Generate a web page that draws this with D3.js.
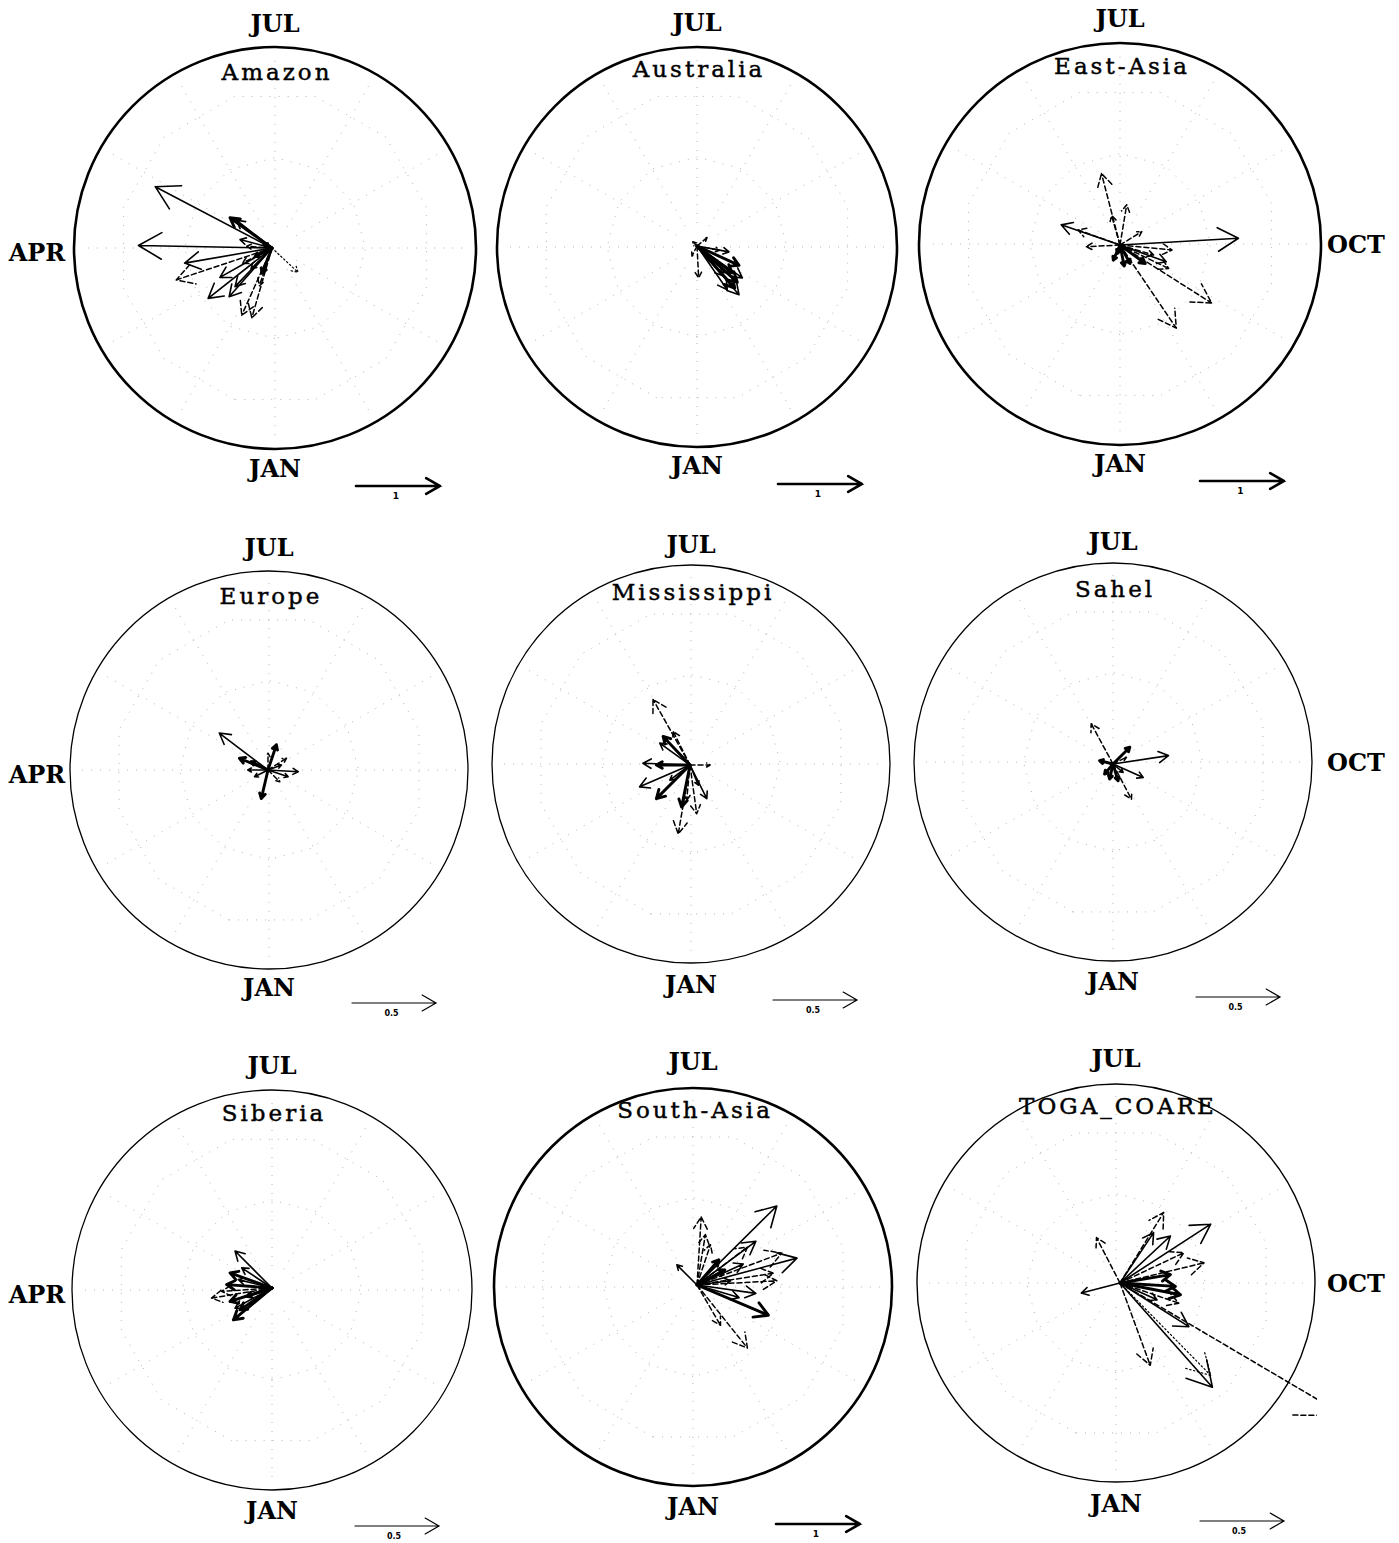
<!DOCTYPE html>
<html><head><meta charset="utf-8">
<script src="https://cdn.jsdelivr.net/npm/d3@7"></script>
<style>body{margin:0;background:#fff}</style>
</head><body>
<svg id="c" width="1399" height="1543"></svg>
<script>
// ---------------- data ----------------
const regions = ["Amazon","Australia","East-Asia","Europe","Mississippi","Sahel","Siberia","South-Asia","TOGA_COARE"];
const refValues = [1,1,1,0.5,0.5,0.5,0.5,1,0.5];
const refLabels = ["1","1","1","0.5","0.5","0.5","0.5","1","0.5"];
const monthLabels = {top:"JUL", bottom:"JAN", left:"APR", right:"OCT"};
// vectors: [u, v, style]  s=solid b=bold d=dashed o=dotted
const amazonVec = [[-1.39,0.73,'s'],[-1.59,0.03,'s'],[-1.04,-0.18,'s'],[-1.14,-0.38,'d'],[-0.76,-0.60,'s'],[-0.51,-0.58,'s'],[-0.36,-0.80,'d'],[-0.24,-0.83,'d'],[-0.50,0.36,'b'],[-0.42,0.33,'s'],[-0.38,0.10,'s'],[0.31,-0.29,'o'],[-0.62,-0.35,'s'],[-0.44,-0.46,'s'],[-0.35,-0.18,'d'],[-0.20,-0.10,'b'],[-0.12,-0.30,'b'],[-0.25,-0.25,'s'],[-0.10,0.05,'b'],[-0.30,0.02,'d'],[-0.15,-0.45,'d']];
const australiaVec = [[0.50,-0.58,'s'],[0.48,-0.43,'b'],[0.54,-0.38,'s'],[0.50,-0.23,'b'],[0.38,-0.07,'s'],[0.27,-0.05,'d'],[0.36,-0.52,'s'],[0.02,-0.38,'d'],[0.12,0.10,'d'],[-0.06,-0.12,'d'],[0.42,-0.32,'b'],[0.30,-0.35,'s'],[0.45,-0.50,'b'],[0.20,-0.20,'s'],[-0.05,0.05,'d']];
const eastAsiaVec = [[1.41,0.08,'s'],[1.09,-0.69,'d'],[0.67,-0.99,'d'],[-0.22,0.85,'d'],[0.08,0.48,'d'],[-0.10,0.35,'d'],[-0.70,0.24,'s'],[-0.40,-0.02,'d'],[0.26,0.16,'d'],[-0.50,0.18,'d'],[0.62,-0.06,'d'],[0.58,-0.28,'d'],[0.55,-0.20,'s'],[0.30,-0.22,'b'],[0.05,-0.25,'b'],[-0.08,-0.18,'b'],[0.12,-0.22,'b'],[-0.03,-0.10,'b'],[0.40,-0.12,'d']];
const europeVec = [[-0.29,0.22,'s'],[-0.04,-0.17,'b'],[0.18,-0.01,'s'],[0.05,0.15,'b'],[-0.17,0.07,'b'],[-0.08,-0.04,'s'],[0.11,0.07,'d'],[0.08,0.03,'s'],[-0.10,0.05,'b'],[0.00,0.10,'d'],[0.12,-0.04,'s'],[-0.12,0.00,'s'],[0.07,-0.07,'d']];
const mississippiVec = [[-0.22,0.39,'d'],[-0.28,0.01,'s'],[-0.30,-0.13,'s'],[-0.20,-0.20,'b'],[-0.07,-0.41,'d'],[0.04,-0.29,'d'],[0.10,-0.20,'s'],[0.12,0.00,'d'],[-0.05,-0.25,'b'],[-0.16,0.17,'b'],[-0.18,0.13,'s'],[-0.20,0.00,'b'],[-0.12,-0.09,'s'],[-0.02,-0.21,'d'],[-0.10,0.20,'d'],[0.05,-0.12,'s']];
const sahelVec = [[-0.13,0.24,'d'],[0.33,0.05,'s'],[0.11,-0.21,'d'],[0.18,-0.08,'s'],[0.10,0.10,'b'],[-0.08,0.02,'b'],[-0.02,-0.09,'b'],[0.03,-0.10,'b'],[-0.05,-0.06,'b'],[0.06,-0.05,'s'],[0.08,0.04,'d']];
const siberiaVec = [[-0.22,0.22,'s'],[-0.36,-0.06,'d'],[-0.23,-0.19,'b'],[-0.25,0.09,'b'],[-0.27,0.02,'b'],[-0.25,-0.08,'b'],[-0.19,-0.13,'b'],[-0.20,0.05,'s'],[-0.30,-0.02,'d'],[-0.15,-0.05,'b'],[-0.18,0.12,'s'],[-0.22,-0.12,'s']];
const southAsiaVec = [[0.95,0.94,'s'],[0.05,0.81,'d'],[0.70,0.52,'s'],[0.16,0.48,'d'],[1.19,0.32,'s'],[1.01,0.38,'d'],[0.91,0.14,'d'],[0.70,-0.10,'s'],[0.85,-0.36,'b'],[0.60,-0.75,'d'],[0.28,-0.48,'d'],[-0.24,0.24,'s'],[0.33,0.18,'b'],[0.40,0.05,'s'],[0.26,0.30,'b'],[0.55,0.25,'s'],[0.95,0.05,'d'],[0.50,-0.15,'s'],[0.10,0.60,'d'],[0.60,0.45,'d']];
const togaVec = [[0.26,0.42,'d'],[0.54,0.35,'s'],[0.30,0.28,'s'],[-0.14,0.27,'d'],[0.50,0.12,'d'],[-0.23,-0.06,'s'],[0.36,-0.07,'b'],[0.33,-0.02,'b'],[0.41,-0.26,'s'],[0.18,-0.49,'d'],[0.54,-0.55,'o'],[0.55,-0.62,'s'],[1.34,-0.79,'d'],[0.38,0.18,'d'],[0.30,0.05,'b'],[0.22,-0.10,'s'],[0.35,-0.12,'d'],[0.20,0.30,'s']];
const vectors = [amazonVec, australiaVec, eastAsiaVec, europeVec, mississippiVec, sahelVec, siberiaVec, southAsiaVec, togaVec];

// ---------------- layout ----------------
const layout = [
  {cx:275,cy:248,r:201,ax:272,ay:248,w:2.6,jul:25,jan:470,title:74,ref:[356,440,486]},
  {cx:697,cy:247,r:200,ax:697,ay:246,w:2.6,jul:24,jan:467,title:71,ref:[778,862,484]},
  {cx:1120,cy:244,r:201,ax:1120,ay:245,w:2.6,jul:20,jan:465,title:68,ref:[1200,1285,481]},
  {cx:269,cy:770,r:199,ax:268,ay:770,w:1.3,jul:549,jan:989,title:598,ref:[352,435,1003]},
  {cx:691,cy:764,r:199,ax:690,ay:765,w:1.3,jul:546,jan:986,title:594,ref:[773,857,1000]},
  {cx:1113,cy:762,r:199,ax:1113,ay:764,w:1.3,jul:543,jan:983,title:591,ref:[1196,1279,997]},
  {cx:272,cy:1290,r:200,ax:272,ay:1288,w:1.3,jul:1067,jan:1512,title:1115,ref:[355,437,1526]},
  {cx:693,cy:1287,r:199,ax:697,ay:1285,w:2.6,jul:1063,jan:1508,title:1112,ref:[776,860,1524]},
  {cx:1116,cy:1283,r:199,ax:1120,ay:1283,w:1.4,jul:1060,jan:1505,title:1108,ref:[1200,1282,1521]}
];
const REF_PX = 84;

const svg = d3.select("#c");
svg.append("defs").append("clipPath").attr("id","clipR")
  .append("rect").attr("x",0).attr("y",0).attr("width",1317).attr("height",1543);

const styleMap = {
  s:{w:1.6,dash:null},
  b:{w:2.9,dash:null},
  d:{w:1.5,dash:"5,3"},
  o:{w:1.2,dash:"1.5,2.5"}
};

function arrowPath(x0,y0,x1,y1,headFrac){
  const dx=x1-x0, dy=y1-y0, len=Math.hypot(dx,dy);
  if(len<0.5) return "";
  const h=Math.max(4,len*headFrac), a=Math.atan2(dy,dx), sp=0.52;
  const bx1=x1-h*Math.cos(a-sp), by1=y1-h*Math.sin(a-sp);
  const bx2=x1-h*Math.cos(a+sp), by2=y1-h*Math.sin(a+sp);
  return `M${x0},${y0}L${x1},${y1}M${bx1},${by1}L${x1},${y1}L${bx2},${by2}`;
}

regions.forEach((name,i)=>{
  const L = layout[i];
  const g = svg.append("g");
  if(i===8) g.attr("clip-path","url(#clipR)");
  const s = d3.scaleLinear().domain([0, refValues[i]]).range([0, REF_PX]);

  // faint polar grid: 12 radial lines and 12-gon rings
  const ang = d3.range(12).map(k=> Math.PI/2 + k*Math.PI/6); // Jan at bottom, clockwise
  const grid = g.append("g").attr("stroke","#b4b4b4").attr("stroke-width",1)
    .attr("stroke-dasharray","1,8").attr("fill","none");
  ang.forEach(a=>{
    grid.append("line").attr("x1",L.cx+0.12*L.r*Math.cos(a)).attr("y1",L.cy+0.12*L.r*Math.sin(a))
      .attr("x2",L.cx+0.97*L.r*Math.cos(a)).attr("y2",L.cy+0.97*L.r*Math.sin(a));
  });
  [0.45,0.78].forEach((f,j)=>{
    const pts = d3.range(13).map(k=>{
      const a = Math.PI/2 + k*Math.PI/6 + (j? Math.PI/12:0);
      return [L.cx+f*L.r*Math.cos(a), L.cy+f*L.r*Math.sin(a)];
    });
    grid.append("path").attr("d", d3.line()(pts));
  });

  // circle
  g.append("circle").attr("cx",L.cx).attr("cy",L.cy).attr("r",L.r)
    .attr("fill","none").attr("stroke","#000").attr("stroke-width",L.w);

  // vectors
  const vg = g.append("g").attr("fill","none").attr("stroke","#000")
    .attr("stroke-linecap","round").attr("stroke-linejoin","round");
  vectors[i].forEach(([u,v,st])=>{
    const m = styleMap[st];
    const p = vg.append("path")
      .attr("d", arrowPath(L.ax, L.ay, L.ax + s(u), L.ay - s(v), 0.2))
      .attr("stroke-width", m.w);
    if(m.dash) p.attr("stroke-dasharray", m.dash);
  });

  // title
  g.append("text").attr("x",L.cx+2).attr("y",L.title).attr("text-anchor","middle")
    .attr("dominant-baseline","middle")
    .attr("stroke","#000").attr("stroke-width",0.45)
    .style("font-family","'DejaVu Serif', serif").style("font-size","23px")
    .style("letter-spacing","3px").text(name);

  // month labels
  const mf = t=> t.style("font-family","'DejaVu Serif', serif").style("font-weight","bold")
    .style("font-size","24px").attr("text-anchor","middle").attr("dominant-baseline","middle");
  mf(svg.append("text").attr("x",L.cx).attr("y",L.jul).text(monthLabels.top));
  mf(svg.append("text").attr("x",L.cx).attr("y",L.jan).text(monthLabels.bottom));
  if(i%3===0) mf(svg.append("text").attr("x",37).attr("y",L.cy+6).text(monthLabels.left));
  if(i%3===2) mf(svg.append("text").attr("x",1356).attr("y",L.cy+2).text(monthLabels.right));

  // reference arrow
  const [rx0, rx1, ry] = L.ref;
  const refW = refValues[i]===1 ? 2.6 : 1.2;
  svg.append("path").attr("d", arrowPath(rx0, ry, rx0 + s(refValues[i]), ry, 0.19))
    .attr("fill","none").attr("stroke","#000").attr("stroke-width",refW)
    .attr("stroke-linecap","round");
  svg.append("text").attr("x",(rx0+rx1)/2 - 2).attr("y",ry+10).attr("text-anchor","middle")
    .attr("dominant-baseline","middle")
    .style("font-family","'DejaVu Sans', sans-serif").style("font-size", refValues[i]===1? "9px":"8px")
    .style("font-weight","bold").text(refLabels[i]);
});
</script>
</body></html>
